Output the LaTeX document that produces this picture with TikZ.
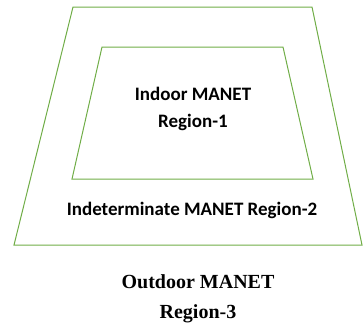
\documentclass[tikz,border=0pt]{standalone}
\usepackage{fontspec}
\setmainfont{Liberation Serif}
\newfontfamily\calib{Carlito}
\definecolor{regiongreen}{RGB}{112,173,71}
\begin{document}
\begin{tikzpicture}[x=1pt,y=-1pt,
  region/.style={draw=regiongreen, line width=1pt, line join=miter},
  sanslabel/.style={font=\calib\bfseries\fontsize{19}{27}\selectfont, align=center, inner sep=0pt},
  seriflabel/.style={font=\bfseries\fontsize{20}{30}\selectfont, align=center, inner sep=0pt}]
  \useasboundingbox (0,0) rectangle (363,325);
  % outer region (region 2 boundary)
  \draw[region] (73,7) -- (312,7) -- (362,245) -- (14,245) -- cycle;
  % inner region (region 1 boundary)
  \draw[region] (102,47) -- (283,47) -- (313,179) -- (72,179) -- cycle;
  \node[sanslabel] (r1) at (193,109) {Indoor MANET\\Region-1};
  \node[sanslabel] (r2) at (192,210) {Indeterminate MANET Region-2};
  \node[seriflabel] (r3) at (198,299) {Outdoor MANET\\Region-3};
\end{tikzpicture}
\end{document}
